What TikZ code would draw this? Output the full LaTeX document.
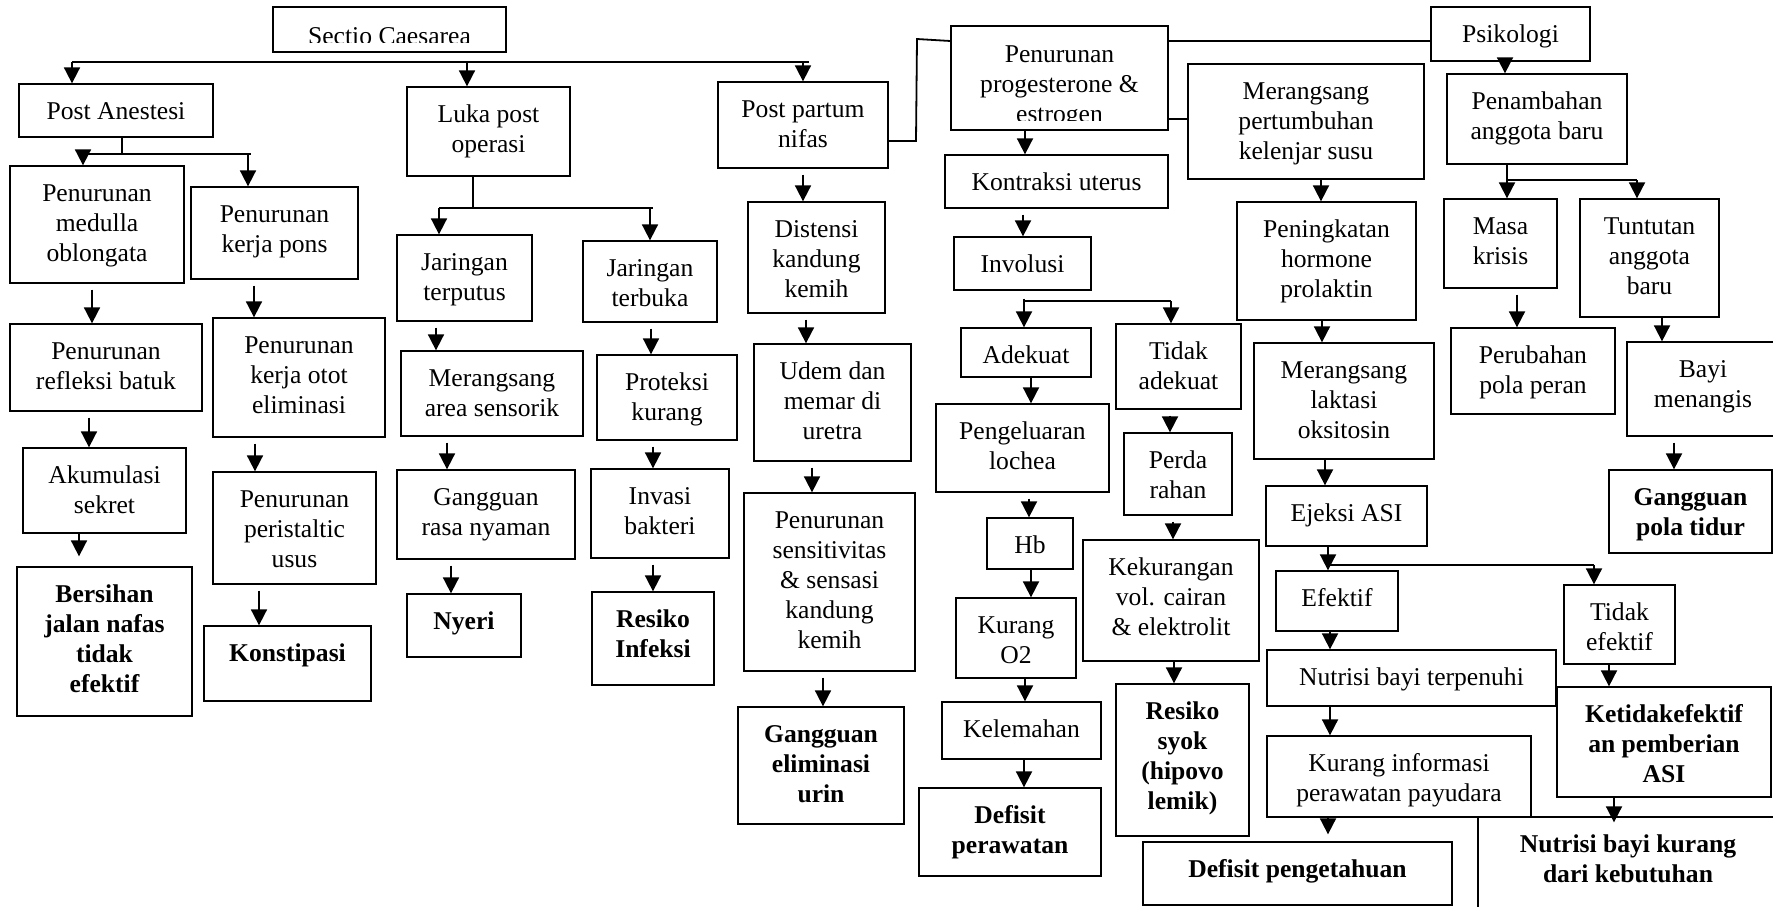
\documentclass[tikz,border=0pt]{standalone}
\usepackage{fontspec}
\setmainfont{Liberation Serif}
\usetikzlibrary{arrows.meta,calc}
\tikzset{
  box/.style={draw,line width=0.65pt,inner sep=0pt},
  txt/.style={anchor=base,inner sep=0pt,font=\fontsize{12.8}{15}\selectfont},
  bold/.style={font=\fontsize{12.8}{15}\selectfont\bfseries},
  ln/.style={line width=0.9pt},
  bus/.style={line width=1.1pt},
  arr/.style={line width=0.9pt,-{Triangle[width=8pt,length=8pt]}},
  darr/.style={arr,shorten <=3pt}
}
\newcommand{\bx}[7][]{%
  \node[box,minimum width={(#5-#3)*0.5pt},minimum height={(#6-#4)*0.5pt}] (#2) at ({(#3+#5)/2},{(#4+#6)/2}) {};
  \node[txt,#1] (#2t) at ({(#3+#5)/2},{#4+35}) {\begin{tabular}[t]{@{}c@{}}#7\end{tabular}};}

\begin{document}
\begin{tikzpicture}[x=0.5pt,y=-0.5pt]
\useasboundingbox (0,0) rectangle (1773,906);

\node[box,minimum width=116.5pt,minimum height=22.5pt] (sectio) at (389.5,29.5) {};
\begin{scope}
\clip (sectio.north west) rectangle ([yshift=5.25pt]sectio.south east);
\node[txt] (sectiot) at (389.5,44) {Sectio Caesarea};
\end{scope}

\bx{anestesi}{19}{84}{213}{137}{Post Anestesi}
\bx{medulla}{10}{166}{184}{283}{Penurunan\\medulla\\oblongata}
\bx{pons}{191}{187}{358}{279}{Penurunan\\kerja pons}
\bx{batuk}{10}{324}{202}{411}{Penurunan\\refleksi batuk}
\bx{sekret}{23}{448}{186}{533}{Akumulasi\\sekret}
\bx[bold]{bersihan}{17}{567}{192}{716}{Bersihan\\jalan nafas\\tidak\\efektif}
\bx{otot}{213}{318}{385}{437}{Penurunan\\kerja otot\\eliminasi}
\bx{usus}{213}{472}{376}{584}{Penurunan\\peristaltic\\usus}
\bx[bold]{konstipasi}{204}{626}{371}{701}{Konstipasi}

\bx{luka}{407}{87}{570}{176}{Luka post\\operasi}
\bx{putus}{397}{235}{532}{321}{Jaringan\\terputus}
\bx{sensorik}{401}{351}{583}{436}{Merangsang\\area sensorik}
\bx{nyaman}{397}{470}{575}{559}{Gangguan\\rasa nyaman}
\bx[bold]{nyeri}{407}{594}{521}{657}{Nyeri}
\bx{buka}{583}{241}{717}{322}{Jaringan\\terbuka}
\bx{proteksi}{597}{355}{737}{440}{Proteksi\\kurang}
\bx{invasi}{591}{469}{729}{558}{Invasi\\bakteri}
\bx[bold]{infeksi}{592}{592}{714}{685}{Resiko\\Infeksi}

\bx{nifas}{718}{82}{888}{168}{Post partum\\nifas}
\bx{distensi}{748}{202}{885}{313}{Distensi\\kandung\\kemih}
\bx{udem}{754}{344}{911}{461}{Udem dan\\memar di\\uretra}
\bx{sensasi}{744}{493}{915}{671}{Penurunan\\sensitivitas\\\& sensasi\\kandung\\kemih}
\bx[bold]{urin}{738}{707}{904}{824}{Gangguan\\eliminasi\\urin}

\node[box,minimum width=108.5pt,minimum height=52pt] (hormon) at (1059.5,78) {};
\begin{scope}
\clip (hormon.north west) rectangle ([yshift=5pt]hormon.south east);
\node[txt] (hormont) at (1059.5,62) {\begin{tabular}[t]{@{}c@{}}Penurunan\\progesterone \&\\estrogen\end{tabular}};
\end{scope}
\bx{kontraksi}{945}{155}{1168}{208}{Kontraksi uterus}
\bx{involusi}{954}{237}{1091}{290}{Involusi}
\bx{adekuat}{961}{328}{1091}{377}{Adekuat}
\bx{lochea}{936}{404}{1109}{492}{Pengeluaran\\lochea}
\bx{hb}{987}{518}{1073}{569}{Hb}
\bx{otwo}{956}{598}{1076}{678}{Kurang\\O2}
\bx{lemah}{942}{702}{1101}{759}{Kelemahan}
\bx[bold]{rawat}{919}{788}{1101}{876}{Defisit\\perawatan}
\bx{tidakadekuat}{1116}{324}{1241}{409}{Tidak\\adekuat}
\bx{perdarahan}{1124}{433}{1232}{515}{Perda\\rahan}
\bx{cairan}{1083}{540}{1259}{661}{Kekurangan\\vol. cairan\\\& elektrolit}
\bx[bold]{syok}{1116}{684}{1249}{836}{Resiko\\syok\\(hipovo\\lemik)}
\bx[bold]{tahu}{1143}{842}{1452}{905}{Defisit pengetahuan}

\bx{susu}{1188}{64}{1424}{179}{Merangsang\\pertumbuhan\\kelenjar susu}
\bx{prolaktin}{1237}{202}{1416}{320}{Peningkatan\\hormone\\prolaktin}
\bx{laktasi}{1254}{343}{1434}{459}{Merangsang\\laktasi\\oksitosin}
\bx{ejeksi}{1266}{486}{1427}{546}{Ejeksi ASI}
\bx{efektif}{1276}{571}{1398}{631}{Efektif}
\bx{terpenuhi}{1267}{650}{1556}{706}{Nutrisi bayi terpenuhi}
\bx{informasi}{1267}{736}{1531}{817}{Kurang informasi\\perawatan payudara}
\bx{tidakefektif}{1564}{585}{1675}{664}{Tidak\\efektif}
\bx[bold]{ketidak}{1557}{687}{1771}{797}{Ketidakefektif\\an pemberian\\ASI}
\bx[bold]{kurangnutrisi}{1478}{817}{1778}{930}{Nutrisi bayi kurang\\dari kebutuhan}

\bx{psikologi}{1431}{7}{1590}{61}{Psikologi}
\bx{penambahan}{1447}{74}{1627}{164}{Penambahan\\anggota baru}
\bx{krisis}{1444}{199}{1557}{288}{Masa\\krisis}
\bx{tuntutan}{1580}{199}{1719}{317}{Tuntutan\\anggota\\baru}
\bx{peran}{1451}{328}{1615}{414}{Perubahan\\pola peran}
\bx{menangis}{1627}{342}{1779}{436}{Bayi\\menangis}
\bx[bold]{tidur}{1609}{470}{1772}{553}{Gangguan\\pola tidur}

\coordinate (sc) at (72,62);
\draw[bus] (sc) -- (sc -| 809,0);
\draw[arr] (sc) -- (anestesi.north -| sc);
\draw[arr] (sc -| 467,0) -- (luka.north -| 467,0);
\draw[arr] (sc -| nifas.north) -- (nifas.north);

\coordinate (an) at (122,154);
\draw[ln] (anestesi.south -| an) -- (an);
\draw[ln] (an -| 83,0) -- (an -| 251,0);
\draw[arr] (an -| 83,0) -- (medulla.north -| 83,0);
\draw[arr] (an -| 248,0) -- (pons.north -| 248,0);
\draw[darr] (medulla.south -| 92,0) -- (batuk.north -| 92,0);
\draw[darr] (batuk.south -| 89,0) -- (sekret.north -| 89,0);
\draw[arr] (sekret.south -| 79,0) -- ([yshift=5pt]bersihan.north -| 79,0);
\draw[darr] (pons.south -| 254,0) -- (otot.north -| 254,0);
\draw[darr] (otot.south -| 255,0) -- (usus.north -| 255,0);
\draw[darr] (usus.south -| 259,0) -- (konstipasi.north -| 259,0);

\coordinate (lk) at (473,208);
\draw[ln] (luka.south -| lk) -- (lk);
\draw[ln] (lk -| 439,0) -- (lk -| 653,0);
\draw[arr] (lk -| 439,0) -- (putus.north -| 439,0);
\draw[arr] (lk -| 650,0) -- (buka.north -| 650,0);
\draw[darr] (putus.south -| 436,0) -- (sensorik.north -| 436,0);
\draw[darr] (sensorik.south -| 447,0) -- (nyaman.north -| 447,0);
\draw[darr] (nyaman.south -| 451,0) -- (nyeri.north -| 451,0);
\draw[darr] (buka.south -| 651,0) -- (proteksi.north -| 651,0);
\draw[darr] (proteksi.south -| 653,0) -- (invasi.north -| 653,0);
\draw[darr] (invasi.south -| 653,0) -- (infeksi.north -| 653,0);

\draw[darr] (nifas.south -| 803,0) -- (distensi.north -| 803,0);
\draw[darr] (distensi.south -| 806,0) -- (udem.north -| 806,0);
\draw[darr] (udem.south -| 812,0) -- (sensasi.north -| 812,0);
\draw[darr] (sensasi.south -| 823,0) -- (urin.north -| 823,0);

\draw[ln] (nifas.east |- 0,141) -- (916,141) -- (917,39) -- (hormon.west |- 0,41);
\draw[ln] (hormon.east |- 0,41) -- (psikologi.west |- 0,41);
\draw[ln] (hormon.east |- 0,119) -- (susu.west |- 0,119);

\draw[arr] (hormon.south -| 1025,0) -- (kontraksi.north -| 1025,0);
\draw[darr] (kontraksi.south -| 1023,0) -- (involusi.north -| 1023,0);
\coordinate (iv) at (1024,301);
\draw[ln,shorten <=4pt] (involusi.south -| iv) -- (iv);
\draw[ln] (iv) -- (iv -| 1171,0);
\draw[arr] (iv) -- (adekuat.north -| iv);
\draw[arr] (iv -| 1171,0) -- (tidakadekuat.north -| 1171,0);
\draw[arr] (adekuat.south -| 1031,0) -- (lochea.north -| 1031,0);
\draw[darr] (lochea.south -| 1029,0) -- (hb.north -| 1029,0);
\draw[arr] (hb.south -| 1031,0) -- (otwo.north -| 1031,0);
\draw[arr] (otwo.south -| 1025,0) -- (lemah.north -| 1025,0);
\draw[arr] (lemah.south -| 1024,0) -- (rawat.north -| 1024,0);
\draw[darr] (tidakadekuat.south -| 1170,0) -- (perdarahan.north -| 1170,0);
\draw[darr] (perdarahan.south -| 1173,0) -- (cairan.north -| 1173,0);
\draw[arr] (cairan.south -| 1174,0) -- (syok.north -| 1174,0);

\draw[arr] (susu.south -| 1321,0) -- (prolaktin.north -| 1321,0);
\draw[arr] (prolaktin.south -| 1322,0) -- (laktasi.north -| 1322,0);
\draw[arr] (laktasi.south -| 1325,0) -- (ejeksi.north -| 1325,0);
\coordinate (ej) at (1328,565);
\draw[arr] (ejeksi.south -| ej) -- (efektif.north -| ej);
\draw[ln] (ej) -- (ej -| 1594,0);
\draw[arr] (ej -| 1594,0) -- (tidakefektif.north -| 1594,0);
\draw[arr] (efektif.south -| 1330,0) -- (terpenuhi.north -| 1330,0);
\draw[arr] (terpenuhi.south -| 1330,0) -- (informasi.north -| 1330,0);
\draw[arr] (informasi.south -| 1328,0) -- ([yshift=3.5pt]tahu.north -| 1328,0);
\draw[arr] (tidakefektif.south -| 1609,0) -- (ketidak.north -| 1609,0);
\draw[arr] (ketidak.south -| 1614,0) -- ([yshift=-3pt]kurangnutrisi.north -| 1614,0);

\draw[arr] (psikologi.south -| 1505,0) -- (penambahan.north -| 1505,0);
\coordinate (pb) at (1507,180);
\draw[arr] (penambahan.south -| pb) -- (krisis.north -| pb);
\draw[ln] (pb) -- (pb -| 1637,0);
\draw[arr] (pb -| 1637,0) -- (tuntutan.north -| 1637,0);
\draw[darr] (krisis.south -| 1517,0) -- (peran.north -| 1517,0);
\draw[arr] (tuntutan.south -| 1662,0) -- (menangis.north -| 1662,0);
\draw[darr] (menangis.south -| 1674,0) -- (tidur.north -| 1674,0);
\end{tikzpicture}
\end{document}
